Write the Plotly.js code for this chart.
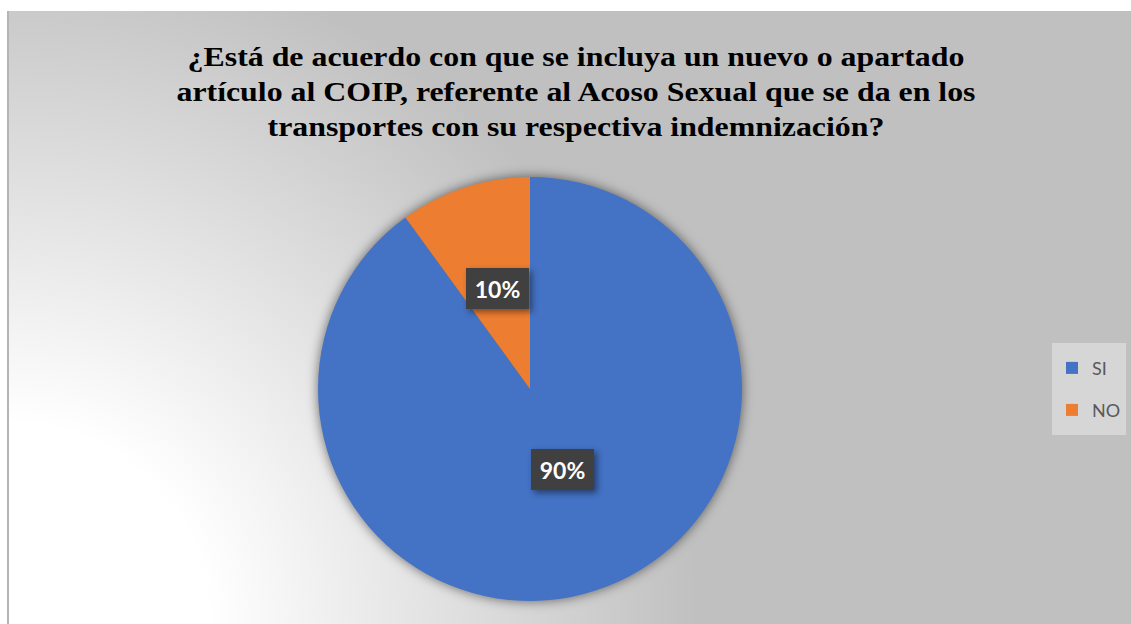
<!DOCTYPE html>
<html>
<head>
<meta charset="utf-8">
<script src="https://cdn.plot.ly/plotly-3.0.1.min.js"></script>
<style>
  html, body { margin:0; padding:0; background:#ffffff; width:1131px; height:624px; overflow:hidden; }
  #bg { position:absolute; left:7px; top:11px; width:1122px; height:613px;
        border-left:2px solid #b4b4b4;
        background: radial-gradient(circle at 0px 613px, #ffffff 0px, #ffffff 200px, #c0c0c0 690px); }
  #chart { position:absolute; left:0; top:0; width:1131px; height:624px; }
  #chart .pielayer .trace { filter: drop-shadow(0px 0px 6px rgba(0,0,0,0.55)); }
  #chart g.annotation rect.bg { filter: drop-shadow(3px 3px 3px rgba(0,0,0,0.45)); }
</style>
</head>
<body>
<div id="bg"></div>
<div id="chart"></div>
<script>
// ---- data ----
const categories = ['SI', 'NO'];
const values = [90, 10];
const sliceColors = ['#4472C4', '#ED7D31'];
const titleText = '¿Está de acuerdo con que se incluya un nuevo o apartado<br>' +
                  'artículo al COIP, referente al Acoso Sexual que se da en los<br>' +
                  'transportes con su respectiva indemnización?';

// ---- layout geometry ----
const W = 1131, H = 624;
const pieCx = 530, pieCy = 389, pieR = 212;
const titleCx = 576, titleStretch = 1.18, legendGap = 42;
const dom = {
  x: [(pieCx - pieR) / W, (pieCx + pieR) / W],
  y: [(H - pieCy - pieR) / H, (H - pieCy + pieR) / H]
};

// percent label positions derived from the data (clockwise from 12 o'clock)
const total = values.reduce((a, b) => a + b, 0);
let cum = 0;
const annotations = [];
values.forEach((v, i) => {
  const mid = (cum + v / 2) / total;
  cum += v;
  const th = 2 * Math.PI * mid;
  const dx = 0.5 * pieR * Math.sin(th);
  const dy = 0.5 * pieR * Math.cos(th);
  annotations.push({
    xref: 'paper', yref: 'paper',
    x: (pieCx + dx) / W, y: (H - pieCy + dy) / H,
    text: '<b>' + Math.round(v / total * 100) + '%</b>',
    showarrow: false, width: 59, height: 37,
    bgcolor: '#404040', borderpad: 1, borderwidth: 1, bordercolor: '#404040',
    font: { family: 'Lato', size: 23, color: '#ffffff' }
  });
});

const data = [{
  type: 'pie',
  labels: categories,
  values: values,
  marker: { colors: sliceColors, line: { width: 0 } },
  sort: false,
  direction: 'clockwise',
  rotation: 0,
  textinfo: 'none',
  hoverinfo: 'label+percent',
  domain: dom
}];

const layout = {
  width: W, height: H,
  margin: { l: 0, r: 0, t: 0, b: 0 },
  paper_bgcolor: 'rgba(0,0,0,0)',
  plot_bgcolor: 'rgba(0,0,0,0)',
  title: {
    text: '<b>' + titleText + '</b>',
    font: { family: 'Liberation Serif', size: 27, color: '#000000' },
    x: titleCx / W, xanchor: 'center', xref: 'container',
    y: 1 - 66 / H, yanchor: 'top', yref: 'container'
  },
  showlegend: true,
  legend: {
    x: 1089 / W, xanchor: 'center',
    y: (H - 389) / H, yanchor: 'middle',
    bgcolor: 'rgba(0,0,0,0)',
    font: { family: 'Lato', size: 18, color: '#595959' },
    itemclick: false
  },
  shapes: [{
    type: 'rect', xref: 'paper', yref: 'paper', layer: 'below',
    x0: 1052 / W, x1: 1126 / W, y0: (H - 435) / H, y1: (H - 343) / H,
    fillcolor: '#d6d6d6', line: { width: 0 }
  }],
  annotations: annotations
};

Plotly.newPlot('chart', data, layout, { displayModeBar: false }).then(gd => {
  // widen the title glyphs like the reference (text stays real text)
  const t = gd.querySelector('.gtitle');
  if (t) {
    const prev = t.getAttribute('transform') || '';
    t.setAttribute('transform', prev + ` translate(${titleCx},0) scale(${titleStretch},1) translate(${-titleCx},0)`);
  }
  // open up the vertical spacing between legend entries
  const items = Array.from(gd.querySelectorAll('g.legend g.traces'));
  if (items.length > 1) {
    const parse = el => {
      const m = /translate\(\s*([-\d.]+)[ ,]+([-\d.]+)\s*\)/.exec(el.getAttribute('transform') || '');
      return m ? [parseFloat(m[1]), parseFloat(m[2])] : [0, 0];
    };
    const pos = items.map(parse);
    const step = pos[1][1] - pos[0][1];
    const n = items.length;
    items.forEach((el, i) => {
      const ny = pos[i][1] + (i - (n - 1) / 2) * (legendGap - step);
      el.setAttribute('transform', `translate(${pos[i][0]},${ny})`);
    });
    gd.querySelectorAll('g.legend .scrollbox').forEach(s => s.removeAttribute('clip-path'));
  }
});
</script>
</body>
</html>
